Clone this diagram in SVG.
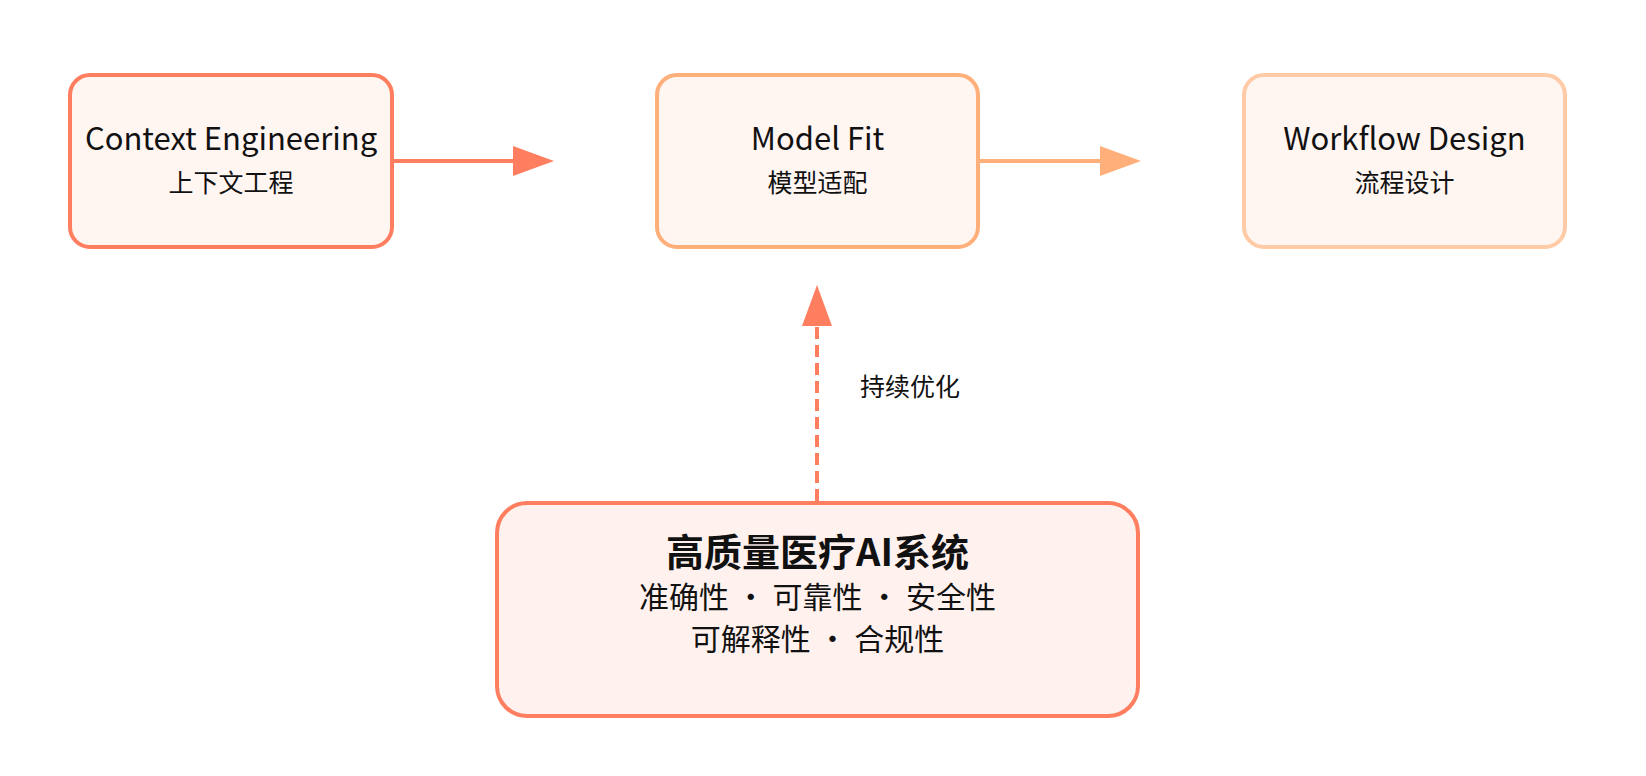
<svg xmlns="http://www.w3.org/2000/svg" width="1646" height="776" viewBox="0 0 1646 776">
<style>
.box{fill:#FFF5F1;stroke-width:4}
.t{font-family:"Noto Sans CJK SC","Noto Sans",sans-serif;fill:#111;text-anchor:middle}
.h{font-size:31px}
.s{font-size:25px}
.bt{font-size:38px;font-weight:bold}
.bs{font-size:30px}
.conn{fill:none;stroke-width:4}
</style>
<defs>
<marker id="ah1" markerUnits="userSpaceOnUse" markerWidth="41" markerHeight="30" refX="7" refY="15" orient="auto" viewBox="0 0 41 30">
<path d="M0,0 L41,15 L0,30 z" fill="#FF7E60"/>
</marker>
<marker id="ah2" markerUnits="userSpaceOnUse" markerWidth="41" markerHeight="30" refX="7" refY="15" orient="auto" viewBox="0 0 41 30">
<path d="M0,0 L41,15 L0,30 z" fill="#FFB07A"/>
</marker>
</defs>
<rect width="1646" height="776" fill="#FFFFFF"/>
<g id="connectors">
<line class="conn" x1="392" y1="161" x2="520" y2="161" stroke="#FF7E60" marker-end="url(#ah1)"/>
<line class="conn" x1="978" y1="161" x2="1107" y2="161" stroke="#FFB07A" marker-end="url(#ah2)"/>
<line class="conn" x1="817" y1="501" x2="817" y2="319" stroke="#FF7E60" stroke-dasharray="12 6" marker-end="url(#ah1)"/>
<text class="t s" x="860" y="396" style="text-anchor:start">持续优化</text>
</g>
<g id="context-engineering">
<rect class="box" x="70" y="75" width="322" height="172" rx="20" stroke="#FF7E60"/>
<text class="t h" x="231" y="150">Context Engineering</text>
<text class="t s" x="231" y="192">上下文工程</text>
</g>
<g id="model-fit">
<rect class="box" x="657" y="75" width="321" height="172" rx="20" stroke="#FFB07A"/>
<text class="t h" x="817.5" y="150">Model Fit</text>
<text class="t s" x="817.5" y="192">模型适配</text>
</g>
<g id="workflow-design">
<rect class="box" x="1244" y="75" width="321" height="172" rx="20" stroke="#FFCBA6"/>
<text class="t h" x="1404.5" y="150">Workflow Design</text>
<text class="t s" x="1404.5" y="192">流程设计</text>
</g>
<g id="medical-ai">
<rect x="497" y="503" width="641" height="213" rx="30" fill="#FFF1EE" stroke="#FF7E60" stroke-width="4"/>
<text class="t bt" x="817.5" y="566">高质量医疗AI系统</text>
<text class="t bs" x="817.5" y="608">准确性 · 可靠性 · 安全性</text>
<text class="t bs" x="817.5" y="650">可解释性 · 合规性</text>
</g>
</svg>
